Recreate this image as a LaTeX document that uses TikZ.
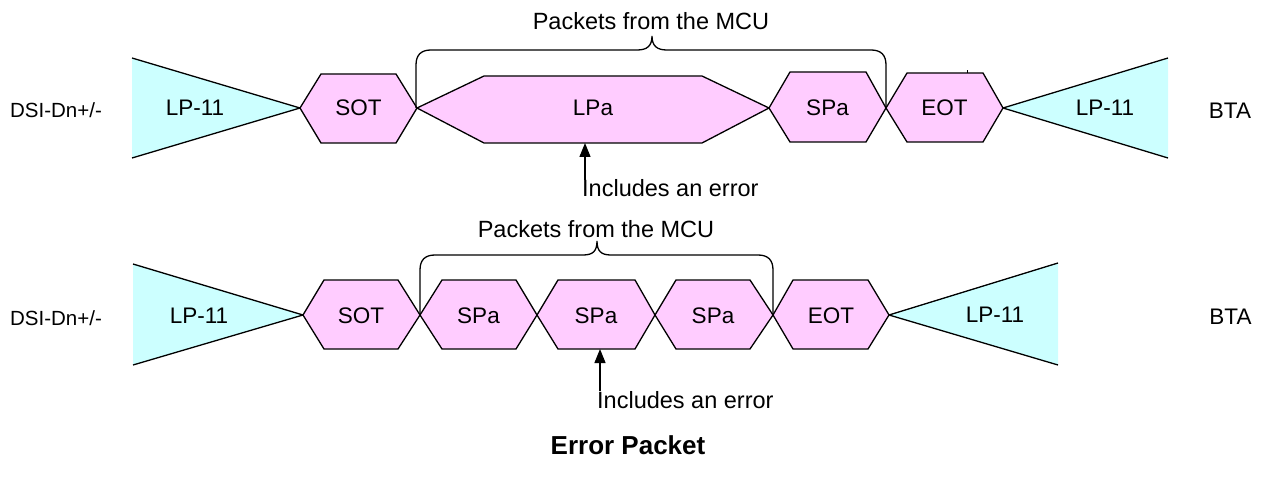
\documentclass[tikz,border=0pt]{standalone}
\usepackage{fontspec}
\setmainfont{Liberation Sans}
\usetikzlibrary{arrows.meta}
\definecolor{pk}{HTML}{FFCCFF}
\definecolor{cy}{HTML}{CCFFFF}
\begin{document}
\begin{tikzpicture}[x=1pt,y=-1pt,
  lbl/.style={font=\fontsize{22.5}{27}\selectfont, inner sep=0pt, anchor=base},
  note/.style={font=\fontsize{23.5}{28}\selectfont, inner sep=0pt, anchor=base},
  side/.style={font=\fontsize{20.5}{25}\selectfont, inner sep=0pt, anchor=base},
  hexa/.style={draw=black, fill=pk, line width=1.3pt, line join=miter},
  tri/.style={fill=cy},
  edge/.style={draw=black, line width=1.3pt},
  brace/.style={draw=black, line width=1.3pt},
  errarrow/.style={draw=black, line width=1.3pt, -{Triangle[width=11pt,length=14pt]}}]
\useasboundingbox (0,0) rectangle (1264,481);

% ---------------- top row ----------------
\fill[tri] (132,58) -- (300,108) -- (132,158) -- cycle;
\draw[edge] (132,58) -- (300,108) -- (132,158);
\fill[tri] (1168,58) -- (1003,108) -- (1168,158) -- cycle;
\draw[edge] (1168,58) -- (1003,108) -- (1168,158);

\draw[hexa] (300,108) -- (321,74) -- (396,74) -- (417,108) -- (396,143) -- (321,143) -- cycle;
\draw[hexa] (417,108) -- (484,76) -- (702,76) -- (769,108) -- (702,143) -- (484,143) -- cycle;
\draw[hexa] (769,108) -- (790,72) -- (866,72) -- (886,108) -- (866,142) -- (790,142) -- cycle;
\draw[hexa] (886,108) -- (907,73) -- (983,73) -- (1003,108) -- (983,142) -- (907,142) -- cycle;
\draw[line width=1pt] (967,70.5) -- (967,73);

\node[side] (dsi1) at (56,118) {DSI-Dn+/-};
\node[lbl] (lpl1) at (195,116) {LP-11};
\node[lbl] (sot1) at (358.5,116) {SOT};
\node[lbl] (lpa1) at (593,116) {LPa};
\node[lbl] (spa1) at (827.5,116) {SPa};
\node[lbl] (eot1) at (944.5,116) {EOT};
\node[lbl] (lpr1) at (1105,116) {LP-11};
\node[lbl] (bta1) at (1230,119) {BTA};

\draw[brace] (416,108) -- (416,65) .. controls (416,55) and (421,50) .. (431,50)
  -- (637,50) .. controls (647,50) and (652,46) .. (652,36)
  .. controls (652,46) and (657,50) .. (667,50)
  -- (871,50) .. controls (881,50) and (886,55) .. (886,65) -- (886,108);
\node[note] (pk1) at (651,30) {Packets from the MCU};

\node[note, anchor=base west] (err1) at (582,197) {Includes an error};
\coordinate (lpab) at (585,143);
\draw[errarrow] (err1.north -| lpab) -- (lpab);

% ---------------- bottom row ----------------
\fill[tri] (133,264) -- (303,315) -- (133,365) -- cycle;
\draw[edge] (133,264) -- (303,315) -- (133,365);
\fill[tri] (1058,263) -- (889,315) -- (1058,365) -- cycle;
\draw[edge] (1058,263) -- (889,315) -- (1058,365);

\draw[hexa] (303,315) -- (324,280) -- (398,280) -- (420,315) -- (398,349) -- (324,349) -- cycle;
\draw[hexa] (420,315) -- (442,280) -- (516,280) -- (537,315) -- (516,349) -- (442,349) -- cycle;
\draw[hexa] (537,315) -- (558,280) -- (635,280) -- (655,315) -- (635,349) -- (558,349) -- cycle;
\draw[hexa] (655,315) -- (676,280) -- (750,280) -- (773,315) -- (750,349) -- (676,349) -- cycle;
\draw[hexa] (773,315) -- (793,280) -- (868,280) -- (889,315) -- (868,349) -- (793,349) -- cycle;

\node[side] (dsi2) at (56,325) {DSI-Dn+/-};
\node[lbl] (lpl2) at (199,323) {LP-11};
\node[lbl] (sot2) at (361,323) {SOT};
\node[lbl] (spa2a) at (478.5,323) {SPa};
\node[lbl] (spa2b) at (596,323) {SPa};
\node[lbl] (spa2c) at (713,323) {SPa};
\node[lbl] (eot2) at (831,323) {EOT};
\node[lbl] (lpr2) at (995,322) {LP-11};
\node[lbl] (bta2) at (1230.5,324) {BTA};

\draw[brace] (420,315) -- (420,270) .. controls (420,260) and (425,255) .. (435,255)
  -- (583,255) .. controls (593,255) and (597,251) .. (597,241)
  .. controls (597,251) and (601,255) .. (611,255)
  -- (758,255) .. controls (768,255) and (773,260) .. (773,270) -- (773,315);
\node[note] (pk2) at (596,238) {Packets from the MCU};

\node[note, anchor=base west] (err2) at (597,408) {Includes an error};
\coordinate (spab) at (600,349);
\draw[errarrow] (err2.north -| spab) -- (spab);

\node[lbl, font=\fontsize{26}{30}\selectfont\bfseries] (title) at (628,454) {Error Packet};
\end{tikzpicture}
\end{document}
